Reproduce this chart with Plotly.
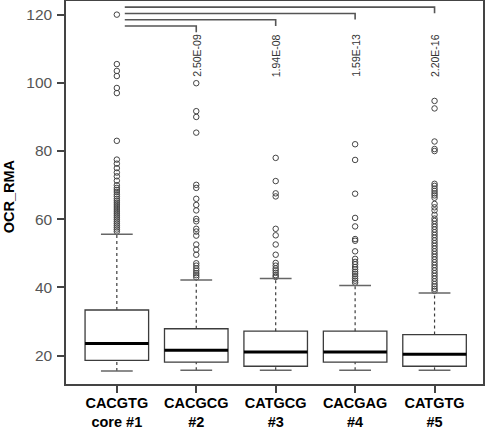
import plotly.graph_objects as go

# ---- data ----
categories = ["CACGTG<br>core #1", "CACGCG<br>#2", "CATGCG<br>#3", "CACGAG<br>#4", "CATGTG<br>#5"]
lower_whisker = [15.5, 15.7, 15.7, 15.7, 15.7]
q1 = [18.6, 18.1, 16.9, 18.1, 16.9]
median = [23.6, 21.6, 21.1, 21.1, 20.4]
q3 = [33.4, 27.9, 27.2, 27.2, 26.2]
upper_whisker = [55.6, 42.2, 42.6, 40.6, 38.4]

outliers_1 = [120, 105.5, 103.5, 102, 98.5, 97, 83, 77.5, 76.3, 75, 73.7, 72.6, 71.3, 70,
              69.2, 68.6, 68, 67.3, 66.7, 66, 65.4, 64.8, 64.2, 63.6, 63, 62.4, 61.8, 61.2,
              60.6, 60, 59.4, 58.8, 58.2, 57.6, 57, 56.4]
outliers_2 = [99.9, 91.7, 90, 85.4, 70.1, 69.2, 66, 64.2, 62.6, 60.1, 59.4, 57.2, 56.4, 55.2,
              52.6, 51.1, 49.6, 47.1, 46.4, 45.6, 44.9, 44.2, 43.6, 43.0]
outliers_3 = [78, 71.2, 67.6, 66.7, 57.2, 55.3, 52.6, 49.6, 47.2, 46.4, 45.6, 45, 44.3,
              43.6, 43.1]
outliers_4 = [82, 77.4, 67.5, 60.4, 57.9, 54.2, 53.7, 50.6, 48.4, 47.5, 46.8, 46, 45.3,
              44.6, 44, 43.3, 42.6, 42, 41.4]
outliers_5 = [94.7, 92.5, 82.8, 80.6, 80, 70.4, 69.8, 69, 68.3, 67.6, 67, 66.3, 64.5, 63.5,
              62.6, 61.3, 60.2, 59.5, 58.6, 57.8, 57, 56.2, 55.4, 54.6, 53.8, 53, 52.2, 51.4,
              50.6, 49.8, 49, 48.2, 47.4, 46.6, 45.8, 45, 44.2, 43.4, 42.6, 41.8, 41, 40.3,
              39.6, 39]
outliers = [outliers_1, outliers_2, outliers_3, outliers_4, outliers_5]
p_values = ["2.50E-09", "1.94E-08", "1.59E-13", "2.20E-16"]
y_ticks = [20, 40, 60, 80, 100, 120]

# ---- styles ----
BOX_W = 0.8
CAP_W = 0.4
FRAME = "#444444"
BOXC = "#3c3c3c"
FONT = "Liberation Sans, Arial"

fig = go.Figure()
shapes = []
for i in range(len(categories)):
    shapes.append(dict(type="rect", xref="x", yref="y", x0=i - BOX_W / 2, x1=i + BOX_W / 2,
                       y0=q1[i], y1=q3[i], line=dict(color=BOXC, width=1.3),
                       fillcolor="white", layer="below"))
    shapes.append(dict(type="line", xref="x", yref="y", x0=i - BOX_W / 2, x1=i + BOX_W / 2,
                       y0=median[i], y1=median[i], line=dict(color="black", width=3)))
    shapes.append(dict(type="line", xref="x", yref="y", x0=i, x1=i, y0=q3[i],
                       y1=upper_whisker[i], line=dict(color=BOXC, width=1.2, dash="3px,3px")))
    shapes.append(dict(type="line", xref="x", yref="y", x0=i, x1=i, y0=lower_whisker[i],
                       y1=q1[i], line=dict(color=BOXC, width=1.2, dash="3px,3px")))
    for v in (upper_whisker[i], lower_whisker[i]):
        shapes.append(dict(type="line", xref="x", yref="y", x0=i - CAP_W / 2, x1=i + CAP_W / 2,
                           y0=v, y1=v, line=dict(color="#666666", width=1.5)))
    fig.add_trace(go.Scatter(x=[i] * len(outliers[i]), y=outliers[i], mode="markers",
                             marker=dict(symbol="circle-open", size=5.5, color="#444444",
                                         line=dict(color="#444444", width=1)),
                             hoverinfo="y", showlegend=False))

top_y = 122.2
step = 1.85
drop = 1.8
for k, p in enumerate(p_values):
    j = len(p_values) - k
    yb = top_y - k * step
    fig.add_trace(go.Scatter(x=[0.1, j, j], y=[yb, yb, yb - drop], mode="lines",
                             line=dict(color="#555555", width=1.6),
                             hoverinfo="skip", showlegend=False))
for j, p in enumerate(p_values, start=1):
    fig.add_annotation(x=j, y=108, xref="x", yref="y", text=p, textangle=-90,
                       showarrow=False, font=dict(family=FONT, size=10.5, color="#333333"))

fig.add_annotation(text="<b>OCR_RMA</b>", textangle=-90, xref="paper", yref="paper",
                   x=-57 / 417, y=0.49, xanchor="center", yanchor="middle", showarrow=False,
                   font=dict(family=FONT, size=14.5, color="black"))

fig.update_layout(
    width=486, height=430,
    margin=dict(l=66, r=3, t=1, b=46),
    paper_bgcolor="white", plot_bgcolor="white",
    shapes=shapes,
    showlegend=False,
    xaxis=dict(range=[-0.64, 4.61], tickvals=list(range(len(categories))),
               ticktext=["<b>" + c + "</b>" for c in categories],
               ticks="outside", ticklen=7, tickwidth=1.5, tickcolor=FRAME,
               showline=True, linecolor=FRAME, linewidth=1.5, mirror=True,
               showgrid=False, zeroline=False, automargin=False, ticklabelstandoff=-2,
               tickfont=dict(family=FONT, size=14.5, color="black")),
    yaxis=dict(range=[11.7, 124], tickvals=y_ticks,
               ticks="outside", ticklen=7, tickwidth=1.5, tickcolor=FRAME,
               showline=True, linecolor=FRAME, linewidth=1.5, mirror=True,
               showgrid=False, zeroline=False, automargin=False, ticklabelstandoff=2,
               tickfont=dict(family=FONT, size=15.5, color="#555555")),
)

fig.write_html("out.html", config={"displayModeBar": False},
               post_script="document.body.style.margin='0';document.body.style.overflow='hidden';")
